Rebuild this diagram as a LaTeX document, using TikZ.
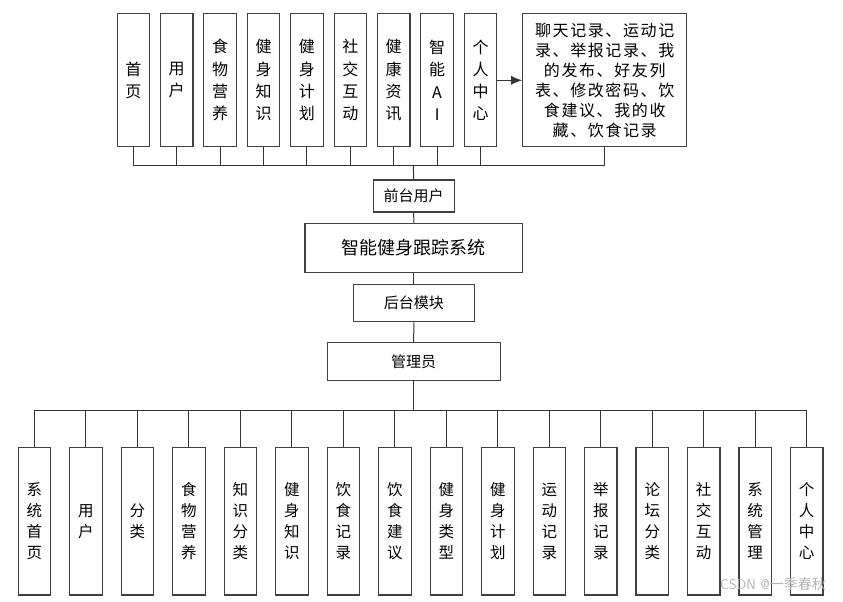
\documentclass[tikz,border=0pt]{standalone}
\usepackage{fontspec}
\newfontfamily\cjk{Noto Sans CJK SC}
\newfontfamily\cjkwide[LetterSpace=10]{Noto Sans CJK SC}
\usetikzlibrary{arrows.meta, positioning}
\newcommand\tx{133.3}
\newcommand\bx{34.5}

\begin{document}
\begin{tikzpicture}[x=1pt, y=-1pt,
    tall/.style={draw=black!75, line width=1.1pt, minimum width=32.5pt, minimum height=132.7pt, inner sep=0pt, align=center, font=\cjk\fontsize{16}{22.3}\selectfont},
    low/.style={tall, minimum height=147.3pt, font=\cjk\fontsize{15.5}{21}\selectfont},
    mid/.style={draw=black!75, line width=1.1pt, inner sep=0pt, font=\cjk\fontsize{15}{18}\selectfont},
    wire/.style={black!80, line width=1pt}]

    \useasboundingbox (0,0) rectangle (843,602);

    % front end
    \node at (\tx, 80.3) [tall] (home) {首\\页};
    \node at (\tx + 43.4, 80.3) [tall] (user) {用\\户};
    \node at (\tx + 2*43.4, 80.3) [tall] (food) {食\\物\\营\\养};
    \node at (\tx + 3*43.4, 80.3) [tall] (know) {健\\身\\知\\识};
    \node at (\tx + 4*43.4, 80.3) [tall] (plan) {健\\身\\计\\划};
    \node at (\tx + 5*43.4, 80.3) [tall] (social) {社\\交\\互\\动};
    \node at (\tx + 6*43.4, 80.3) [tall] (news) {健\\康\\资\\讯};
    \node at (\tx + 7*43.4, 80.3) [tall] (ai) {智\\能\\A\\I};
    \node at (\tx + 8*43.4, 80.3) [tall] (center) {个\\人\\中\\心};
    \node at (604.7, 80.3) [tall, minimum width=164pt, font=\cjkwide\fontsize{16}{20}\selectfont] (info)
        {聊天记录、运动记\\录、举报记录、我\\的发布、好友列\\表、修改密码、饮\\食建议、我的收\\藏、饮食记录};

    \coordinate (topbus) at (413.3, 165);
    \draw[wire] (home.south) |- (info.south |- topbus) -- (info.south);
    \draw[wire] (user.south) -- (user.south |- topbus);
    \draw[wire] (food.south) -- (food.south |- topbus);
    \draw[wire] (know.south) -- (know.south |- topbus);
    \draw[wire] (plan.south) -- (plan.south |- topbus);
    \draw[wire] (social.south) -- (social.south |- topbus);
    \draw[wire] (news.south) -- (news.south |- topbus);
    \draw[wire] (ai.south) -- (ai.south |- topbus);
    \draw[wire] (center.south) -- (center.south |- topbus);
    \draw[wire, -{Latex[length=11pt, width=9pt]}] (center.east) -- (info.west);

    % system
    \node at (413.7, 196) [mid, minimum width=80.7pt, minimum height=32pt] (front) {前台用户};
    \node at (413.8, 247.8) [mid, minimum width=217.7pt, minimum height=49pt, font=\cjk\fontsize{18}{20}\selectfont] (sys) {智能健身跟踪系统};
    \node at (413.8, 303) [mid, minimum width=121pt, minimum height=37.4pt] (back) {后台模块};
    \node at (413.7, 361.7) [mid, minimum width=172.7pt, minimum height=38pt] (admin) {管理员};

    \draw[wire] (topbus) -- (front.north);
    \draw[wire] (front.south) -- (sys.north);
    \draw[wire] (sys.south) -- (back.north);
    \draw[wire] (back.south) -- (admin.north);

    % back end
    \node at (\bx, 521.3) [low] (shome) {系\\统\\首\\页};
    \node at (\bx + 51.48, 521.3) [low] (suser) {用\\户};
    \node at (\bx + 2*51.48, 521.3) [low] (cat) {分\\类};
    \node at (\bx + 3*51.48, 521.3) [low] (sfood) {食\\物\\营\\养};
    \node at (\bx + 4*51.48, 521.3) [low] (kcat) {知\\识\\分\\类};
    \node at (\bx + 5*51.48, 521.3) [low] (sknow) {健\\身\\知\\识};
    \node at (\bx + 6*51.48, 521.3) [low] (drec) {饮\\食\\记\\录};
    \node at (\bx + 7*51.48, 521.3) [low] (dadv) {饮\\食\\建\\议};
    \node at (\bx + 8*51.48, 521.3) [low] (ftype) {健\\身\\类\\型};
    \node at (\bx + 9*51.48, 521.3) [low] (splan) {健\\身\\计\\划};
    \node at (\bx + 10*51.48, 521.3) [low] (srec) {运\\动\\记\\录};
    \node at (\bx + 11*51.48, 521.3) [low] (rrec) {举\\报\\记\\录};
    \node at (\bx + 12*51.48, 521.3) [low] (fcat) {论\\坛\\分\\类};
    \node at (\bx + 13*51.48, 521.3) [low] (ssocial) {社\\交\\互\\动};
    \node at (\bx + 14*51.48, 521.3) [low] (sman) {系\\统\\管\\理};
    \node at (\bx + 15*51.48, 521.3) [low] (scenter) {个\\人\\中\\心};

    \coordinate (botbus) at (414, 410);
    \draw[wire] (admin.south) -- (admin.south |- botbus);
    \draw[wire] (shome.north) |- (scenter.north |- botbus) -- (scenter.north);
    \draw[wire] (suser.north) -- (suser.north |- botbus);
    \draw[wire] (cat.north) -- (cat.north |- botbus);
    \draw[wire] (sfood.north) -- (sfood.north |- botbus);
    \draw[wire] (kcat.north) -- (kcat.north |- botbus);
    \draw[wire] (sknow.north) -- (sknow.north |- botbus);
    \draw[wire] (drec.north) -- (drec.north |- botbus);
    \draw[wire] (dadv.north) -- (dadv.north |- botbus);
    \draw[wire] (ftype.north) -- (ftype.north |- botbus);
    \draw[wire] (splan.north) -- (splan.north |- botbus);
    \draw[wire] (srec.north) -- (srec.north |- botbus);
    \draw[wire] (rrec.north) -- (rrec.north |- botbus);
    \draw[wire] (fcat.north) -- (fcat.north |- botbus);
    \draw[wire] (ssocial.north) -- (ssocial.north |- botbus);
    \draw[wire] (sman.north) -- (sman.north |- botbus);

    \node at (773, 584) [text=black!30, font=\sffamily\fontsize{14}{14}\selectfont] (mark) {CSDN @{\cjk 一季春秋}};

\end{tikzpicture}
\end{document}
